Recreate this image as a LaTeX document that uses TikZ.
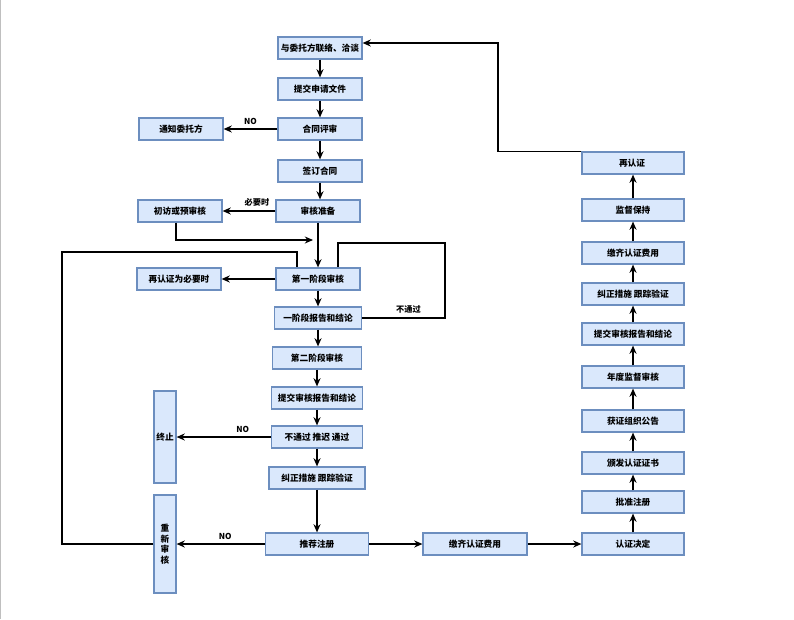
\documentclass[tikz,border=0pt]{standalone}
\usepackage{fontspec}
\newfontfamily\cjk{Noto Sans CJK SC}
\usepackage{xcolor}
\usepackage{tikz}
\usetikzlibrary{arrows.meta, positioning}
\definecolor{BoxFill}{HTML}{dae8fc}
\definecolor{BoxLine}{HTML}{6c8ebf}

\begin{document}
\begin{tikzpicture}[x=0.03cm, y=-0.03cm,
  box/.style={draw=BoxLine, fill=BoxFill, line width=1pt, minimum width=2.52cm, minimum height=0.66cm, inner sep=1pt, font=\cjk\bfseries\fontsize{7.4}{9}\selectfont, align=center},
  tall/.style={box, minimum width=0.66cm},
  flow/.style={line width=1.3pt, -{Stealth[length=7pt, width=6pt]}},
  link/.style={line width=1.3pt},
  tag/.style={font=\cjk\bfseries\fontsize{7}{8}\selectfont}
]
\useasboundingbox (0,0) rectangle (794,619);
\draw[gray!50, line width=0.6pt] (0.5,0) -- (0.5,619);

% Main column
\node[box] (contact) at (320,48) {与委托方联络、洽谈};
\node[box] (apply) at (320,89) {提交申请文件};
\node[box] (review) at (320,129) {合同评审};
\node[box] (notify) at (181,129) {通知委托方};
\node[box] (sign) at (320,171) {签订合同};
\node[box] (prep) at (318,211) {审核准备};
\node[box] (visit) at (180,211) {初访或预审核};
\node[box] (stage1) at (318,279) {第一阶段审核};
\node[box] (recert1) at (179,279) {再认证为必要时};
\node[box, minimum width=2.61cm] (report1) at (318,318) {一阶段报告和结论};
\node[box, minimum width=2.67cm] (stage2) at (317,358) {第二阶段审核};
\node[box, minimum width=2.73cm] (report2) at (317,398) {提交审核报告和结论};
\node[box, minimum width=2.73cm] (decide) at (317,437) {不通过 推迟 通过};
\node[tall, minimum height=2.76cm] (stop) at (165,437) {终止};
\node[box, minimum width=2.88cm] (fix) at (317,478) {纠正措施 跟踪验证};
\node[box, minimum width=3.09cm] (recommend) at (317,544) {推荐注册};
\node[tall, minimum height=2.94cm] (redo) at (165,544) {重\\新\\审\\核};
\node[box, minimum width=3.12cm] (fee) at (475,544) {缴齐认证费用};

% Right column
\foreach \n/\y/\t in {
  cdec/544/认证决定,
  approve/502/批准注册,
  issue/463/颁发认证证书,
  notice/421/获证组织公告,
  annual/377/年度监督审核,
  report3/334/提交审核报告和结论,
  fix2/294/纠正措施 跟踪验证,
  fee2/253/缴齐认证费用,
  keep/210/监督保持,
  recert/163/再认证
} {
  \node[box, minimum width=3.06cm] (\n) at (633,\y) {\t};
}

% Downward arrows
\foreach \a/\b in {contact/apply, apply/review, review/sign, sign/prep, prep/stage1,
  stage1/report1, report1/stage2, stage2/report2, report2/decide, decide/fix, fix/recommend} {
  \draw[flow] (\a.south) -- (\a.south |- \b.north);
}

% Upward arrows
\foreach \a/\b in {cdec/approve, approve/issue, issue/notice, notice/annual, annual/report3,
  report3/fix2, fix2/fee2, fee2/keep, keep/recert} {
  \draw[flow] (\a) -- (\b);
}

% Side branches
\draw[flow] (review) -- node[tag, above] {NO} (notify);
\draw[flow] (prep) -- node[tag, above, pos=0.35] {必要时} (visit);
\draw[flow] (stage1) -- (recert1);
\draw[flow] (decide) -- node[tag, above, pos=0.3] {NO} (stop);
\draw[flow] (recommend) -- node[tag, above, pos=0.45] {NO} (redo);
\draw[flow] (recommend) -- (fee);
\draw[flow] (fee) -- (cdec);

% Loops
\coordinate (merge) at (313,240);
\draw[flow] ([xshift=-0.12cm]visit.south) |- (merge);

\coordinate (loopTop) at (62,252);
\draw[link] (redo.west) -| (loopTop) -| ([xshift=-0.63cm]stage1.north);

\coordinate (failTop) at (445,243);
\draw[link] (report1.east) -| node[tag, above, pos=0.28] {不通过} (failTop) -| ([xshift=0.6cm]stage1.north);

\coordinate (backTop) at (498,43);
\draw[flow] (recert.north west) -| (backTop) -- (backTop -| contact.east);
\end{tikzpicture}
\end{document}
